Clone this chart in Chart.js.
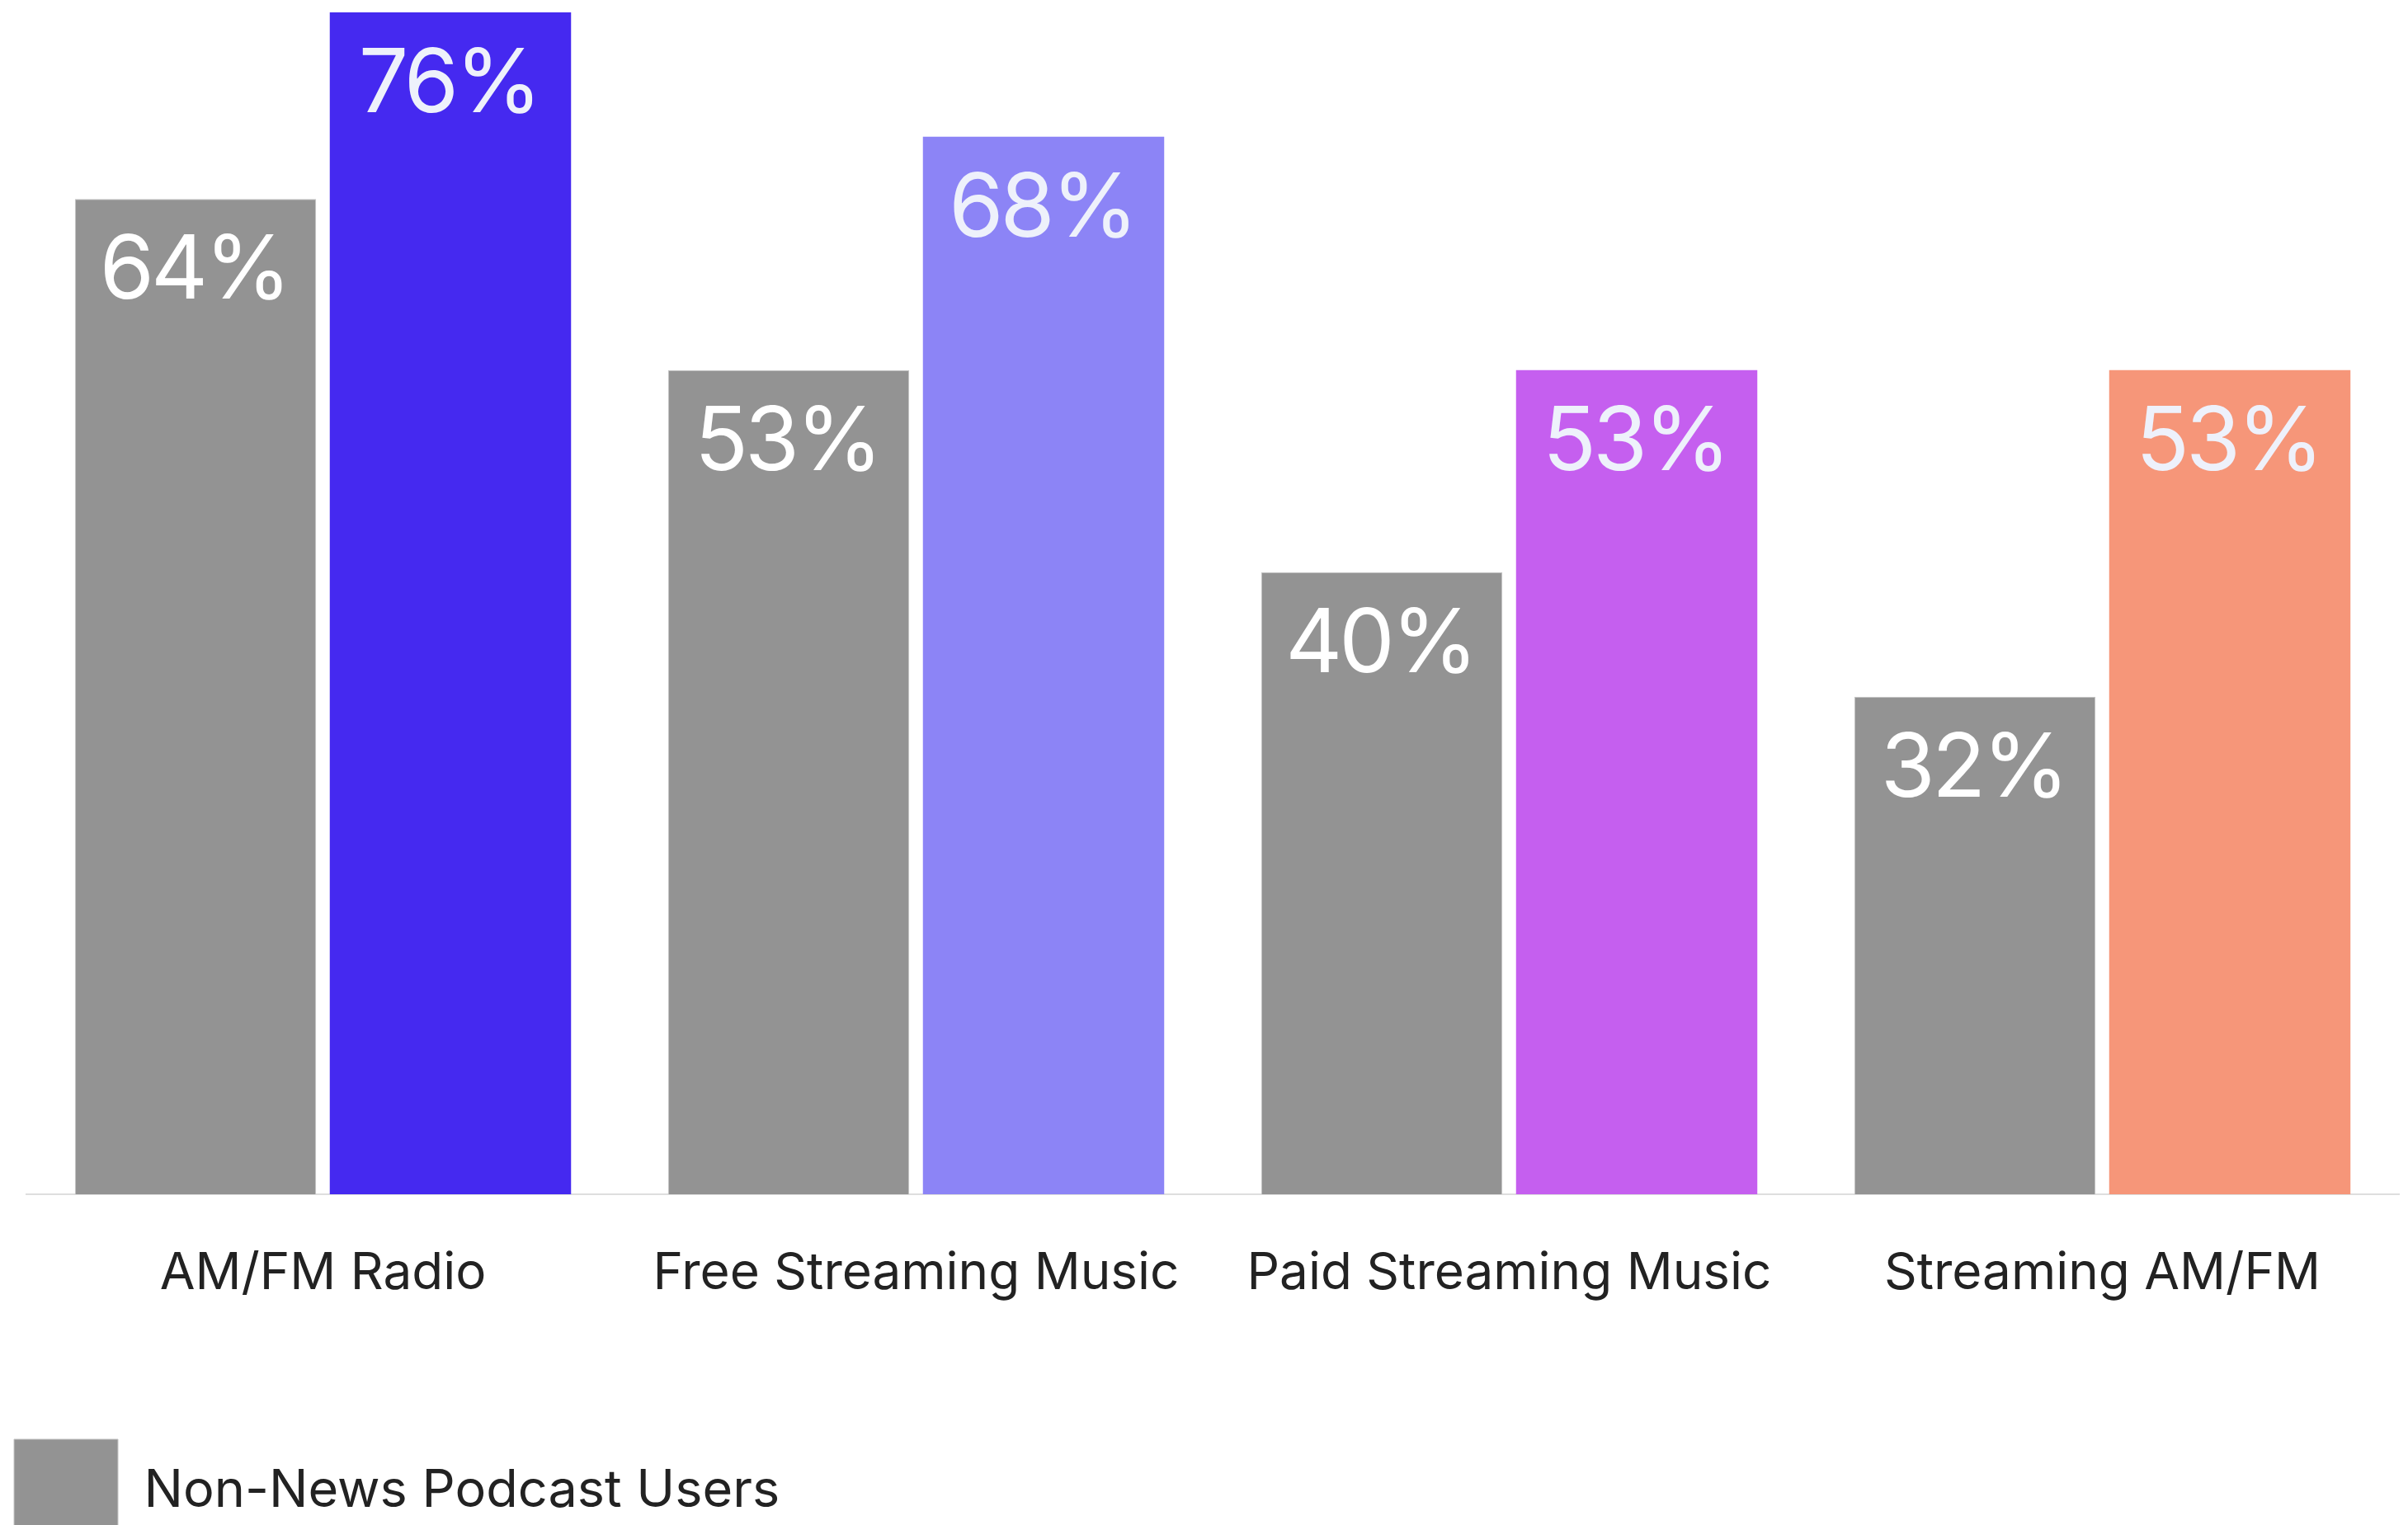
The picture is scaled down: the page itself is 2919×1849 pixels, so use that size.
<!DOCTYPE html>
<html lang="en">
<head>
    <meta charset="UTF-8">
    <title>Listening Platforms</title>
    <script src="https://cdn.jsdelivr.net/npm/chart.js"></script>
    <style>
        html, body {
            margin: 0;
            padding: 0;
            background: #ffffff;
            overflow: hidden;
        }
        .chart-container {
            position: relative;
            width: 2919px;
            height: 1881px;
        }
    </style>
</head>
<body>
    <div class="chart-container">
        <canvas id="platformChart"></canvas>
    </div>

    <script>
        const categories = ['AM/FM Radio', 'Free Streaming Music', 'Paid Streaming Music', 'Streaming AM/FM'];
        const nonNewsUsers = [64, 53, 40, 32];
        const newsUsers = [76, 68, 53, 53];
        const newsColors = ['#4529F0', '#8C84F6', '#C55FEF', '#F69679'];

        // writes the percentage inside the top of each bar
        const barValueLabels = {
            id: 'barValueLabels',
            afterDatasetsDraw(chart) {
                const ctx = chart.ctx;
                ctx.save();
                ctx.font = '400 107px Inter';
                ctx.letterSpacing = '-4px';
                ctx.textAlign = 'center';
                ctx.textBaseline = 'middle';
                chart.data.datasets.forEach((ds, i) => {
                    chart.getDatasetMeta(i).data.forEach((bar, j) => {
                        ctx.fillStyle = i === 0 ? '#ffffff' : '#EEF1FB';
                        ctx.fillText(ds.data[j] + '%', bar.x - 2, bar.y + 89);
                    });
                });
                ctx.restore();
            }
        };

        new Chart(document.getElementById('platformChart'), {
            type: 'bar',
            data: {
                labels: categories,
                datasets: [{
                    label: 'Non-News Podcast Users',
                    data: nonNewsUsers,
                    backgroundColor: '#939393',
                    borderColor: '#c4c4c4',
                    borderWidth: 1
                }, {
                    label: 'News Podcast Users',
                    data: newsUsers,
                    backgroundColor: newsColors,
                    borderWidth: 0
                }]
            },
            options: {
                responsive: true,
                maintainAspectRatio: false,
                animation: false,
                categoryPercentage: 0.8595,
                barPercentage: 0.9466,
                layout: {
                    padding: { top: 15, right: 11, left: 0, bottom: 0 }
                },
                plugins: {
                    tooltip: { enabled: false },
                    legend: {
                        position: 'bottom',
                        align: 'start',
                        labels: {
                            boxWidth: 126,
                            boxHeight: 126,
                            padding: 17,
                            color: '#222222',
                            font: { family: 'Inter', size: 63 },
                            filter: item => item.datasetIndex === 0
                        }
                    }
                },
                scales: {
                    x: {
                        grid: { display: false, drawTicks: false },
                        border: { display: true, color: '#dedede', width: 2 },
                        ticks: {
                            padding: 59,
                            color: '#222222',
                            font: { family: 'Inter', size: 62 }
                        },
                        afterFit(scale) {
                            scale.height = 280;
                        }
                    },
                    y: {
                        min: 0,
                        max: 76,
                        grid: { display: false, drawTicks: false },
                        border: { display: false },
                        ticks: { display: false },
                        afterFit(scale) {
                            scale.width = 32;
                        }
                    }
                }
            },
            plugins: [barValueLabels]
        });
    </script>
</body>
</html>
